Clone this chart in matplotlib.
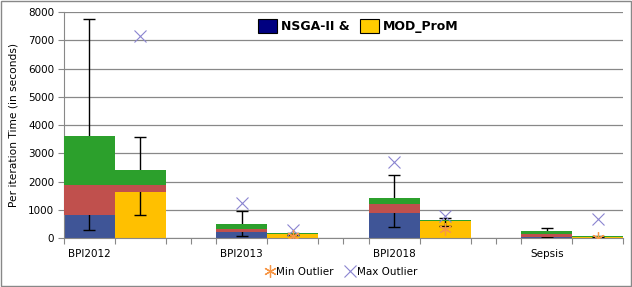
import matplotlib.pyplot as plt
import matplotlib.patches as mpatches
from matplotlib.lines import Line2D
import numpy as np

categories = ['BPI2012', 'BPI2013', 'BPI2018', 'Sepsis']

# stacked segments (seconds)
nsga_base = [825, 225, 905, 60]
nsga_mid = [1040, 85, 300, 80]
nsga_top = [1755, 210, 215, 120]
mod_base = [1650, 140, 600, 50]
mod_mid = [235, 10, 25, 10]
mod_top = [530, 20, 25, 20]

# whiskers
nsga_low = [300, 80, 380, 60]
nsga_high = [7770, 980, 2235, 350]
mod_low = [815, 110, 440, 30]
mod_high = [3575, 190, 730, 90]

# outliers
nsga_max = [np.nan, 1240, 2700, np.nan]
mod_max = [7150, 290, 800, 680]
mod_min = [np.nan, 90, 330, 0]

BLUE = '#3F5597'
RED = '#C0504D'
GREEN = '#2CA02C'
GOLD = '#FFC000'
PURPLE = '#8A84D0'
ORANGE = '#F79646'

fig = plt.figure(figsize=(6.32, 2.87), dpi=100)
ax = fig.add_axes([0.101, 0.170, 0.885, 0.788])
fig.patches.append(mpatches.Rectangle((0.001, 0.002), 0.997, 0.995, transform=fig.transFigure,
                                      fill=False, edgecolor='#888888', linewidth=1))

x_nsga = np.arange(len(categories)) * 3
x_mod = x_nsga + 1

def stack(x, base, mid, top, low, high, base_color):
    base = np.array(base)
    mid = np.array(mid)
    top = np.array(top)
    ax.bar(x, base, width=1, align='edge', color=base_color, zorder=2)
    c = x + 0.5
    ax.errorbar(c, base, yerr=[base - np.array(low), np.array(high) - base], fmt='none',
                ecolor='black', elinewidth=1, capsize=4, capthick=1, zorder=2.5)
    ax.bar(x, mid, bottom=base, width=1, align='edge', color=RED, zorder=3)
    ax.bar(x, top, bottom=base + mid, width=1, align='edge', color=GREEN, zorder=3)

stack(x_nsga, nsga_base, nsga_mid, nsga_top, nsga_low, nsga_high, BLUE)
stack(x_mod, mod_base, mod_mid, mod_top, mod_low, mod_high, GOLD)

ax.plot(x_nsga + 0.5, nsga_max, 'x', color=PURPLE, ms=9, mew=0.8, zorder=5)
ax.plot(x_mod + 0.5, mod_max, 'x', color=PURPLE, ms=9, mew=0.8, zorder=5)
ax.plot(x_mod + 0.5, mod_min, marker=(6, 2, 0), ls='none', color=ORANGE, ms=9, mew=0.9, zorder=5)

ax.set_xlim(0, 11)
ax.set_ylim(0, 8000)
ax.set_yticks(range(0, 8001, 1000))
ax.yaxis.grid(True, color='#888888', linewidth=0.9)
ax.set_axisbelow(True)

edges = [0, 1, 2, 2.5, 3, 4, 5, 5.5, 6, 7, 8, 8.5, 9, 10, 11]
ax.set_xticks(edges)
ax.set_xticklabels([''] * len(edges))
ax.set_xticks(x_nsga + 0.5, minor=True)
ax.set_xticklabels(categories, minor=True)
ax.tick_params(axis='x', which='major', length=4, color='#888888')
ax.tick_params(axis='x', which='minor', length=0, pad=8, labelsize=7.5)
ax.tick_params(axis='y', length=4, color='#888888', labelsize=7.5, pad=3)

for s in ['top', 'right']:
    ax.spines[s].set_visible(False)
for s in ['left', 'bottom']:
    ax.spines[s].set_color('#888888')

ax.set_ylabel('Per iteration Time (in seconds)', fontsize=7.7, labelpad=7)

# top legend
h1 = mpatches.Patch(facecolor='#000080', edgecolor='black', linewidth=0.8)
h2 = mpatches.Patch(facecolor='#FFCC00', edgecolor='black', linewidth=0.8)
leg = fig.legend([h1, h2], ['NSGA-II &', 'MOD_ProM'], loc='center', bbox_to_anchor=(0.567, 0.908),
                 ncol=2, frameon=False, prop={'weight': 'bold', 'size': 9},
                 handlelength=1.5, handleheight=1.3, handletextpad=0.3, columnspacing=0.9)

# bottom legend
m1 = Line2D([], [], marker=(6, 2, 0), ls='none', color=ORANGE, ms=9, mew=0.9)
m2 = Line2D([], [], marker='x', ls='none', color=PURPLE, ms=9, mew=0.8)
fig.legend([m1, m2], ['Min Outlier', 'Max Outlier'], loc='center', bbox_to_anchor=(0.54, 0.053),
           ncol=2, frameon=False, fontsize=7.5, handlelength=0.8, handletextpad=0.2,
           columnspacing=1.2)

fig.savefig('out.png', dpi=100)
